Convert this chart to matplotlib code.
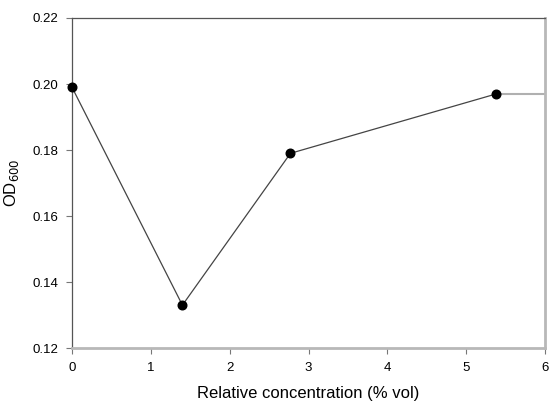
import matplotlib
matplotlib.use("Agg")
import matplotlib.pyplot as plt

plt.rcParams['font.family'] = ['Liberation Sans', 'DejaVu Sans']

conc = [0.0, 1.4, 2.77, 5.38]
od600 = [0.199, 0.133, 0.179, 0.197]
tail_x = [5.38, 6.0]
tail_y = [0.197, 0.197]
xticks = [0, 1, 2, 3, 4, 5, 6]
yticks = [0.12, 0.14, 0.16, 0.18, 0.20, 0.22]

fig = plt.figure(figsize=(5.54, 4.09), dpi=100)
ax = fig.add_axes([0.130, 0.149, 0.854, 0.807])

ax.plot(tail_x, tail_y, color='#b0b0b0', lw=1.5, zorder=2, clip_on=False)
ax.plot(conc, od600, color='#444444', lw=0.9, marker='o', ms=6.2,
        mfc='black', mec='black', zorder=3, clip_on=False)

ax.set_xlim(0, 6)
ax.set_ylim(0.12, 0.22)
ax.set_xticks(xticks)
ax.set_xticklabels([str(t) for t in xticks])
ax.set_yticks(yticks)
ax.set_yticklabels([f"{t:.2f}" for t in yticks])

ax.spines['left'].set_color('#555555')
ax.spines['left'].set_linewidth(0.9)
ax.spines['top'].set_color('#555555')
ax.spines['top'].set_linewidth(0.9)
ax.spines['bottom'].set_color('#b8b8b8')
ax.spines['bottom'].set_linewidth(2.0)
ax.spines['right'].set_color('#b8b8b8')
ax.spines['right'].set_linewidth(2.0)

ax.tick_params(axis='both', direction='out', length=4, width=0.8,
               color='#777777', labelsize=9.5, pad=6)

ax.set_xlabel('Relative concentration (% vol)', fontsize=12, labelpad=9)
ax.set_ylabel('OD$_{600}$', fontsize=12, labelpad=8)

fig.savefig('out.png', dpi=100)
